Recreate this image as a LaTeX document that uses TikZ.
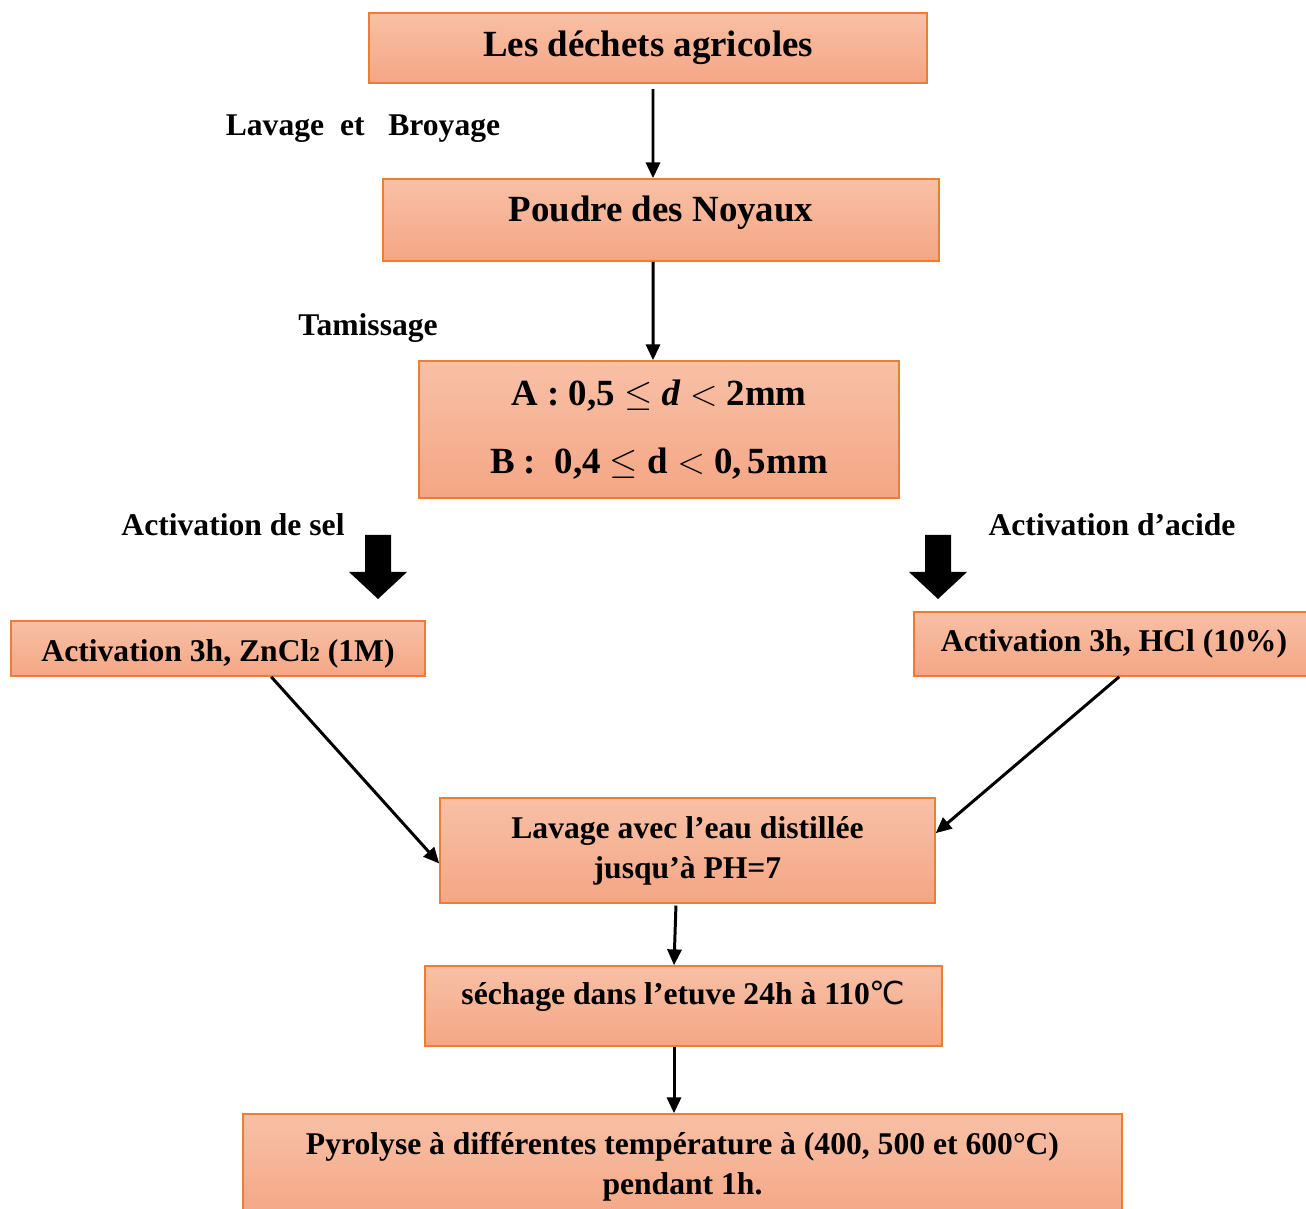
\documentclass[tikz,border=0pt]{standalone}
\usepackage{fontspec}
\setmainfont{Liberation Serif}
\newfontfamily\dejavu{DejaVu Sans}
\usetikzlibrary{arrows.meta}

\definecolor{boxtop}{HTML}{F8C0A6}
\definecolor{boxbot}{HTML}{F4A684}
\definecolor{boxline}{HTML}{ED7D31}

\newcommand{\liftup}[2]{\raisebox{#1}[\height][\depth]{#2}}

\begin{document}
\begin{tikzpicture}[
    x=0.02cm, y=-0.02cm,
    box/.style={
      rectangle, draw=boxline, line width=0.9pt,
      top color=boxtop, bottom color=boxbot,
      align=center, inner sep=0pt, font=\bfseries\fontsize{18}{22.7}\selectfont,
    },
    big/.style={font=\bfseries\fontsize{21}{26}\selectfont},
    arr/.style={line width=1.7pt, -{Triangle[length=9pt,width=8pt]}},
    lab/.style={font=\bfseries\fontsize{18}{22}\selectfont},
  ]
  \useasboundingbox (0,0) rectangle (1306,1209);

  % boxes
  \node[box, big, minimum width=11.16cm, minimum height=1.4cm]
    (dechets) at (648,48) {Les déchets agricoles};
  \node[box, big, minimum width=11.12cm, minimum height=1.64cm]
    (poudre) at (661,220) {\liftup{4pt}{Poudre des Noyaux}};
  \node[box, font=\bfseries\fontsize{21}{38.6}\selectfont,
    minimum width=9.6cm, minimum height=2.74cm]
    (tamis) at (659,429.5)
    {A : 0,5 $\leq$ \textit{d} $<$ 2mm\\B :~ 0,4 $\leq$ d $<$ 0,$\,$5mm};
  \node[box, minimum width=8.28cm, minimum height=1.1cm]
    (zncl) at (218,648.5)
    {\liftup{-3pt}{Activation 3h, ZnCl{\fontsize{12}{12}\selectfont 2} (1M)}};
  \node[box, minimum width=8cm, minimum height=1.28cm]
    (hcl) at (1114,644) {Activation 3h, HCl (10\%)};
  \node[box, minimum width=9.9cm, minimum height=2.1cm]
    (lavage) at (687.5,850.5) {Lavage avec l’eau distillée\\jusqu’à PH=7};
  \node[box, minimum width=10.34cm, minimum height=1.6cm]
    (sechage) at (683.5,1006)
    {\liftup{5.5pt}{séchage dans l’etuve 24h à 110{\dejavu\mdseries ℃}}};
  \node[box, minimum width=17.58cm, minimum height=2.12cm]
    (pyrolyse) at (682.5,1167)
    {Pyrolyse à différentes température à (400, 500 et 600°C)\\pendant 1h.};

  % labels
  \node[lab] (lbroy) at (363,129) {Lavage \ et \ \ Broyage};
  \node[lab] (ltamis) at (368,328) {Tamissage};
  \node[lab] (lsel) at (233,525) {Activation de sel};
  \node[lab] (lacide) at (1112,525) {Activation d’acide};

  % thick arrows
  \foreach \x in {378,938}
    \fill (\x-13,535) -- (\x+13,535) -- (\x+13,572) -- (\x+29,572)
      -- (\x,599) -- (\x-29,572) -- (\x-13,572) -- cycle;

  % connectors
  \draw[arr, shorten <=3pt] ([xshift=0.1cm]dechets.south) -- ([xshift=-0.16cm]poudre.north);
  \draw[arr] ([xshift=-0.16cm]poudre.south) -- ([xshift=-0.12cm]tamis.north);
  \draw[arr] (zncl.332) -- (lavage.183);
  \draw[arr] (hcl.279) -- (lavage.4.5);
  \draw[arr, shorten <=1pt] ([xshift=-0.23cm]lavage.south) -- ([xshift=-0.19cm]sechage.north);
  \draw[arr] ([xshift=-0.19cm]sechage.south) -- ([xshift=-0.17cm]pyrolyse.north);
\end{tikzpicture}
\end{document}
